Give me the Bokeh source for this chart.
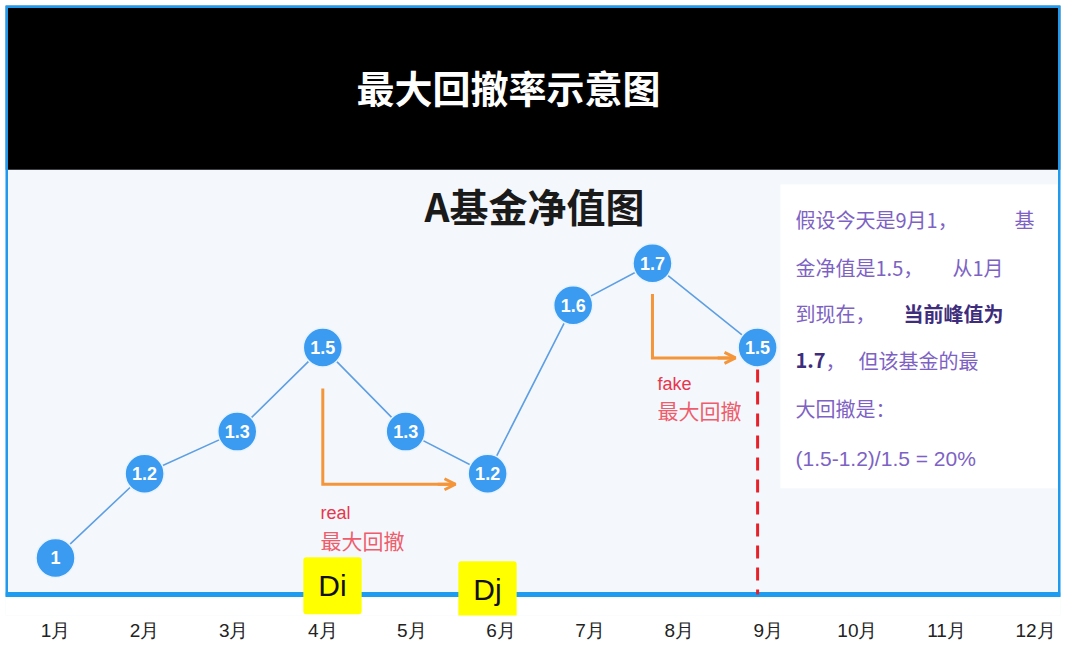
from bokeh.plotting import figure
from bokeh.models import Label, BoxAnnotation, Arrow, OpenHead, FixedTicker, Range1d, Span
from bokeh.core.properties import value
from bokeh.embed import file_html
from bokeh.resources import INLINE

# ---------------- data ----------------
months = ["1月", "2月", "3月", "4月", "5月", "6月", "7月", "8月", "9月", "10月", "11月", "12月"]
month_pos = list(range(1, 13))
point_x = [1.0, 2.0, 3.04, 4.0, 4.93, 5.85, 6.81, 7.70, 8.88]   # month position of each point
nav = [1.0, 1.2, 1.3, 1.5, 1.3, 1.2, 1.6, 1.7, 1.5]              # fund net value
nav_text = [f"{v:g}" for v in nav]
peak_i, trough_i, peak2_i, today_i = 3, 5, 7, 8

chart_title = "最大回撤率示意图"
sub_title = "A基金净值图"
real_texts = ["real", "最大回撤"]
fake_texts = ["fake", "最大回撤"]
di_texts = ["Di", "Dj"]

CJK = "Noto Sans CJK SC"
LAT = "Liberation Sans"

# ---------------- pixel helpers (layout only) ----------------
def dx(px):
    return 1 + (px - 55) / 89.1

def dy(py):
    return 1.3667 - (py - 405) / 423.0

BASE_PX = 597  # pixel row of the blue base line

p = figure(width=1062, height=643, output_backend="svg", toolbar_location=None,
           x_range=Range1d(dx(5), dx(1060)), y_range=Range1d(dy(618), dy(5)),
           y_axis_location=None, min_border_left=5, min_border_right=2,
           min_border_top=5, min_border_bottom=25)
p.grid.visible = False
p.background_fill_color = "#f4f8fc"
p.border_fill_color = "white"
p.outline_line_color = None

ax = p.xaxis[0]
ax.ticker = FixedTicker(ticks=month_pos)
ax.major_label_overrides = {m: t for m, t in zip(month_pos, months)}
ax.major_label_text_font = LAT
ax.major_label_text_font_size = "19px"
ax.major_label_text_color = "#222222"
ax.major_label_standoff = 4
ax.major_tick_out = 0
ax.major_tick_in = 0
ax.minor_tick_out = 0
ax.minor_tick_in = 0
ax.major_tick_line_color = None
ax.minor_tick_line_color = None
ax.axis_line_color = None

# white area below base line, header band, note panel
p.add_layout(BoxAnnotation(top=dy(BASE_PX), fill_color="white", fill_alpha=1,
                           line_color=None, level="underlay"))
p.add_layout(BoxAnnotation(bottom=dy(170), fill_color="black", fill_alpha=1,
                           line_color=None, level="underlay"))
p.add_layout(BoxAnnotation(left=dx(780), top=dy(185), bottom=dy(490), fill_color="white",
                           fill_alpha=1, line_color=None, level="underlay"))
# frame borders and base line (under the Di/Dj boxes)
p.add_layout(BoxAnnotation(bottom=dy(BASE_PX), fill_alpha=0, line_color="#1f9aee",
                           line_alpha=1, line_width=5, level="underlay"))
p.add_layout(Span(location=dy(BASE_PX), dimension="width", line_color="#1e9df0",
                  line_width=4, level="underlay"))

# today dashed line
p.segment(x0=[point_x[today_i]], y0=[nav[today_i]], x1=[point_x[today_i]], y1=[dy(BASE_PX)],
          line_color="#e8202a", line_width=3, line_dash="13 9")

# drawdown arrows
orange = "#f5953a"
for i, j, top_px, end_px in [(peak_i, trough_i, 390, 455), (peak2_i, today_i, 295, 735)]:
    ybot = nav[j] - 0.025
    p.line([point_x[i], point_x[i], dx(end_px)], [dy(top_px), ybot, ybot],
           line_color=orange, line_width=3, line_join="miter")
    p.add_layout(Arrow(end=OpenHead(size=11, line_color=orange, line_width=3),
                       x_start=dx(end_px) - 0.2, y_start=ybot, x_end=dx(end_px), y_end=ybot,
                       line_color=orange, line_width=3))

# NAV line and points
p.line(point_x, nav, line_color="#5e9fe3", line_width=1.6)
p.scatter(point_x, nav, size=39, fill_color="#3a9bf0", line_color="#e8f3fd", line_width=1.5)
p.text(point_x, nav, text=nav_text, text_align="center", text_baseline="middle",
       text_color="white", text_font=value(LAT), text_font_style="bold", text_font_size="18px")

# titles
p.add_layout(Label(x=dx(508), y=dy(86), text=chart_title, text_align="center",
                   text_baseline="middle", text_color="white", text_font=CJK,
                   text_font_style="bold", text_font_size="38px"))
p.add_layout(Label(x=dx(534), y=dy(205), text=sub_title, text_align="center",
                   text_baseline="middle", text_color="#1a1a1a", text_font=CJK,
                   text_font_style="bold", text_font_size="39px"))

# real / fake labels
p.add_layout(Label(x=dx(320), y=dy(515), text=real_texts[0], text_baseline="middle",
                   text_color="#e8364c", text_font=LAT, text_font_size="18px"))
p.add_layout(Label(x=dx(320), y=dy(542), text=real_texts[1], text_baseline="middle",
                   text_color="#ef5d6c", text_font=CJK, text_font_size="21px"))
p.add_layout(Label(x=dx(657), y=dy(385), text=fake_texts[0], text_baseline="middle",
                   text_color="#e8364c", text_font=LAT, text_font_size="18px"))
p.add_layout(Label(x=dx(657), y=dy(411), text=fake_texts[1], text_baseline="middle",
                   text_color="#ef5d6c", text_font=CJK, text_font_size="21px"))

# Di / Dj boxes
for t, cx, cy in [(di_texts[0], 332, 588), (di_texts[1], 487, 592)]:
    p.add_layout(Label(x=dx(cx), y=dy(cy), text=t, text_align="center", text_baseline="middle",
                       text_color="#111111", text_font=LAT, text_font_size="30px",
                       background_fill_color="#ffff00", background_fill_alpha=1,
                       padding=(15, 12), border_radius=3))

# note text
normal_c = "#7d62c4"
bold_c = "#3e2d7c"
note_segments = [
    ("假设今天是9月1，", 795, 220, False),
    ("基", 1014, 220, False),
    ("金净值是1.5，", 795, 268, False),
    ("从1月", 952, 268, False),
    ("到现在，", 795, 315, False),
    ("当前峰值为", 903, 315, True),
    ("1.7", 795, 362, True),
    ("，", 825, 362, False),
    ("但该基金的最", 858, 362, False),
    ("大回撤是：", 795, 410, False),
    ("(1.5-1.2)/1.5 = 20%", 795, 460, False),
]
for t, x, y, b in note_segments:
    p.add_layout(Label(x=dx(x), y=dy(y), text=t, text_baseline="middle",
                       text_color=bold_c if b else normal_c,
                       text_font=LAT if t.startswith("(") else CJK,
                       text_font_style="bold" if b else "normal",
                       text_font_size="21px" if t.startswith("(") else "20px"))

open("out.html", "w").write(file_html(p, INLINE))
